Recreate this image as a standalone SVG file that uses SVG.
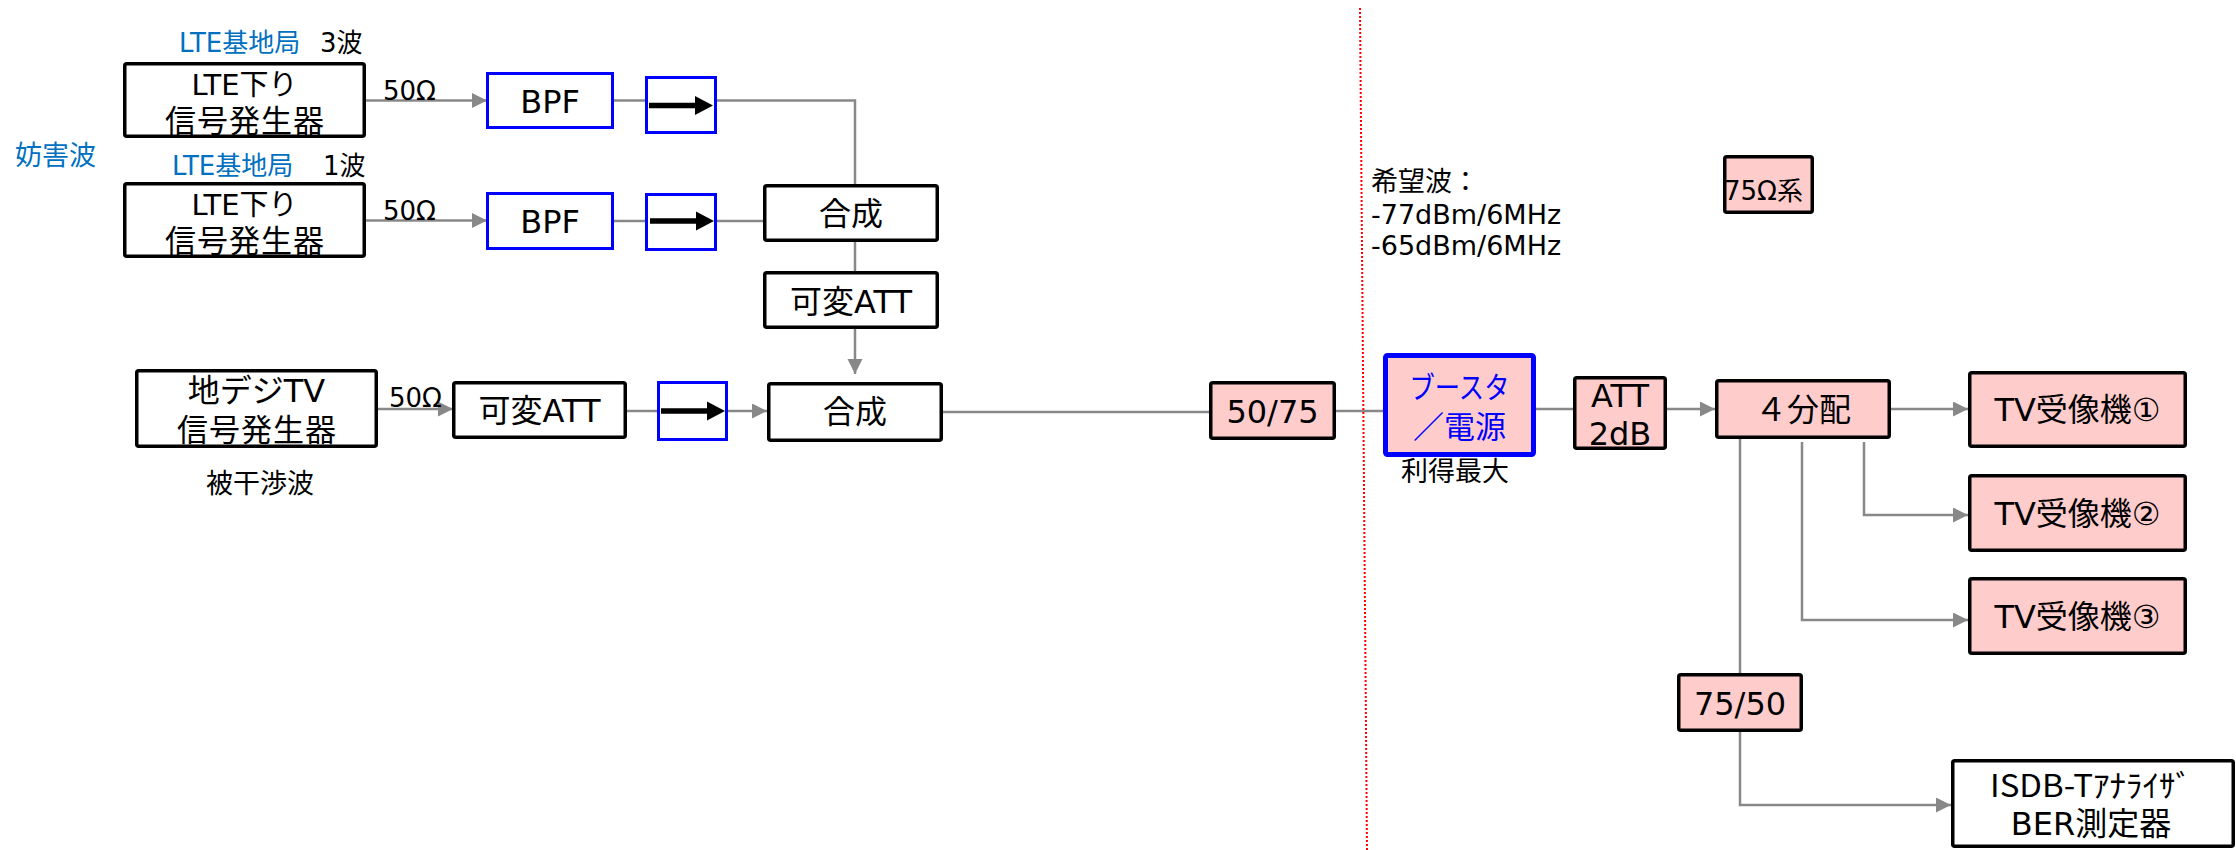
<svg xmlns="http://www.w3.org/2000/svg" width="2236" height="850" viewBox="0 0 2236 850">
<style>
.n{font-family:"Noto Sans CJK JP","Noto Sans",sans-serif}
.d{font-family:"DejaVu Sans","Noto Sans CJK JP",sans-serif}
.bx{fill:#fff;stroke:#000;stroke-width:3.5}
.pk{fill:#FFCCCC;stroke:#000;stroke-width:3.5}
.bl{fill:#fff;stroke:#0000FF;stroke-width:3}
.c{fill:none;stroke:#888;stroke-width:2.5}
.t{font-size:32px;fill:#000;text-anchor:middle}
.lbl{font-size:26px;fill:#000}
.blue{fill:#0070C0}
.l1{font-size:29px}
.l2{font-size:31px;letter-spacing:1px}
</style>
<defs>
<marker id="ah" markerUnits="userSpaceOnUse" markerWidth="16" markerHeight="16" refX="15" refY="7.5" orient="auto">
<path d="M0,0 L15,7.5 L0,15 z" fill="#888"/>
</marker>
<g id="iso">
<rect x="0" y="-2.75" width="47" height="5.5" fill="#000"/>
<path d="M46,-9.5 L64,0 L46,9.5 z" fill="#000"/>
</g>
</defs>
<rect width="2236" height="850" fill="#fff"/>

<g id="connectors">
<path class="c" d="M366,100.5 H487" marker-end="url(#ah)"/>
<path class="c" d="M614,100.5 H645"/>
<path class="c" d="M717,100.5 H855 V184"/>
<path class="c" d="M366,220.5 H487" marker-end="url(#ah)"/>
<path class="c" d="M614,221 H645"/>
<path class="c" d="M717,221 H763"/>
<path class="c" d="M855,242 V271"/>
<path class="c" d="M855,329 V374" marker-end="url(#ah)"/>
<path class="c" d="M378,409 H453" marker-end="url(#ah)"/>
<path class="c" d="M627,411 H657"/>
<path class="c" d="M728,411 H767" marker-end="url(#ah)"/>
<path class="c" d="M943,412 H1209"/>
<path class="c" d="M1336,411 H1383"/>
<path class="c" d="M1536,409 H1573"/>
<path class="c" d="M1667,409 H1715" marker-end="url(#ah)"/>
<path class="c" d="M1891,409 H1968" marker-end="url(#ah)"/>
<path class="c" d="M1864,442 V515 H1968" marker-end="url(#ah)"/>
<path class="c" d="M1802,442 V620 H1968" marker-end="url(#ah)"/>
<path class="c" d="M1740,438 V673"/>
<path class="c" d="M1740,732 V805 H1951" marker-end="url(#ah)"/>
</g>

<line x1="1360" y1="8" x2="1367" y2="850" stroke="#FF0000" stroke-width="2" stroke-dasharray="2 2"/>

<g id="labels">
<text class="d lbl blue" x="179" y="52">LTE基地局</text>
<text class="d lbl" x="320" y="52">3波</text>
<text class="d lbl blue" x="172" y="175">LTE基地局</text>
<text class="d lbl" x="323" y="175">1波</text>
<text class="n blue" x="15" y="165" font-size="27">妨害波</text>
<text class="n" x="206" y="493" font-size="27">被干渉波</text>
<text class="d lbl" x="383" y="100">50Ω</text>
<text class="d lbl" x="383" y="220">50Ω</text>
<text class="d lbl" x="389" y="407">50Ω</text>
<text class="d" x="1371" y="191" font-size="27">希望波：</text>
<text class="d" x="1371" y="224" font-size="27">-77dBm/6MHz</text>
<text class="d" x="1371" y="255" font-size="27">-65dBm/6MHz</text>
<text class="n" x="1455" y="481" font-size="27" text-anchor="middle">利得最大</text>
</g>

<g id="lte1">
<rect class="bx" x="124.75" y="63.75" width="239.5" height="72.5" rx="2"/>
<text class="d t l1" x="244.5" y="95">LTE下り</text>
<text class="d t l2" x="245" y="131.5">信号発生器</text>
</g>
<g id="lte2">
<rect class="bx" x="124.75" y="183.75" width="239.5" height="72.5" rx="2"/>
<text class="d t l1" x="244.5" y="215">LTE下り</text>
<text class="d t l2" x="245" y="251.5">信号発生器</text>
</g>
<g id="bpf1">
<rect class="bl" x="487.5" y="73.5" width="125" height="54"/>
<text class="d t" x="550" y="113">BPF</text>
</g>
<g id="bpf2">
<rect class="bl" x="487.5" y="193.5" width="125" height="55"/>
<text class="d t" x="550" y="233">BPF</text>
</g>
<g id="iso1">
<rect class="bl" x="646.5" y="77.5" width="69" height="55"/>
<use href="#iso" x="649" y="105.5"/>
</g>
<g id="iso2">
<rect class="bl" x="646.5" y="194.5" width="69" height="55"/>
<use href="#iso" x="650" y="221"/>
</g>
<g id="gousei1">
<rect class="bx" x="764.75" y="185.75" width="172.5" height="54.5" rx="2"/>
<text class="n t" x="851" y="225">合成</text>
</g>
<g id="att1">
<rect class="bx" x="764.75" y="272.75" width="172.5" height="54.5" rx="2"/>
<text class="d t" x="851" y="313">可変ATT</text>
</g>
<g id="chideji">
<rect class="bx" x="136.75" y="370.75" width="239.5" height="75.5" rx="2"/>
<text class="d t" x="256.5" y="402" font-size="30">地デジTV</text>
<text class="d t l2" x="257" y="441">信号発生器</text>
</g>
<g id="att2">
<rect class="bx" x="453.75" y="382.75" width="171.5" height="54.5" rx="2"/>
<text class="d t" x="539.5" y="422">可変ATT</text>
</g>
<g id="iso3">
<rect class="bl" x="658.5" y="382.5" width="68" height="57"/>
<use href="#iso" x="661" y="411"/>
</g>
<g id="gousei2">
<rect class="bx" x="768.75" y="383.75" width="172.5" height="56.5" rx="2"/>
<text class="n t" x="855" y="423">合成</text>
</g>
<g id="conv5075">
<rect class="pk" x="1210.75" y="382.75" width="123.5" height="55.5" rx="2"/>
<text class="d t" x="1272.5" y="423">50/75</text>
</g>
<g id="booster">
<rect x="1385.5" y="355.5" width="148" height="99" fill="#FFCCCC" stroke="#0000FF" stroke-width="5" rx="2"/>
<text class="d" x="1459.5" y="398" font-size="30" text-anchor="middle" fill="#0000FF" textLength="100" lengthAdjust="spacingAndGlyphs">ブースタ</text>
<text class="d" x="1459.5" y="438" font-size="31" text-anchor="middle" fill="#0000FF">／電源</text>
</g>
<g id="att2db">
<rect class="pk" x="1574.75" y="377.75" width="90.5" height="70.5" rx="2"/>
<text class="d t" x="1620" y="407">ATT</text>
<text class="d t" x="1620" y="445">2dB</text>
</g>
<g id="bunpai">
<rect class="pk" x="1716.75" y="380.75" width="172.5" height="56.5" rx="2"/>
<text class="n t" x="1803" y="421">４分配</text>
</g>
<g id="tv1">
<rect class="pk" x="1969.75" y="372.75" width="215.5" height="73.5" rx="2"/>
<text class="d t" x="2077.5" y="421">TV受像機①</text>
</g>
<g id="tv2">
<rect class="pk" x="1969.75" y="475.75" width="215.5" height="74.5" rx="2"/>
<text class="d t" x="2077.5" y="525">TV受像機②</text>
</g>
<g id="tv3">
<rect class="pk" x="1969.75" y="578.75" width="215.5" height="74.5" rx="2"/>
<text class="d t" x="2077.5" y="628">TV受像機③</text>
</g>
<g id="conv7550">
<rect class="pk" x="1678.75" y="674.75" width="122.5" height="55.5" rx="2"/>
<text class="d t" x="1740" y="715">75/50</text>
</g>
<g id="ohm75">
<rect class="pk" x="1724.75" y="156.75" width="87.5" height="55.5" rx="2"/>
<text class="d" x="1724" y="200" font-size="26">75Ω系</text>
</g>
<g id="isdb">
<rect class="bx" x="1952.75" y="760.75" width="280.5" height="85.5" rx="2"/>
<text class="n" x="2091" y="797" font-size="31" text-anchor="middle" textLength="202" lengthAdjust="spacingAndGlyphs">ISDB-Tｱﾅﾗｲｻﾞ</text>
<text class="d t" x="2091" y="835">BER測定器</text>
</g>
</svg>
